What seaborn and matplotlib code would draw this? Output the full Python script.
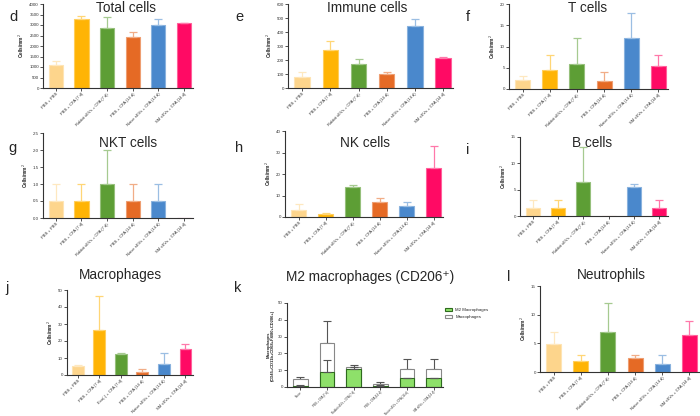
import matplotlib
matplotlib.use("Agg")
import matplotlib.pyplot as plt
import matplotlib.colors as mcolors
import numpy as np
import pandas as pd
import seaborn as sns

# ---------------- data ----------------
groups = ["PBS + PBS", "PBS + CFA (7 d)", "Rabbit sEVs + CFA (7 d)",
          "PBS + CFA (14 d)", "Naive sEVs + CFA (14 d)", "SM sEVs + CFA (14 d)"]
groups_j = ["PBS + PBS", "PBS + CFA (7 d)", "Exo(-) + CFA (7 d)",
            "PBS + CFA (14 d)", "Naive sEVs + CFA (14 d)", "SM sEVs + CFA (14 d)"]
groups_k = ["Naive", "PBS + CFA (7 d)", "Rabbit sEVs + CFA (7 d)",
            "PBS + CFA (14 d)", "Naive sEVs + CFA (14 d)", "SM sEVs + CFA (14 d)"]

total_mean = [1085, 3270, 2850, 2405, 2980, 3075]
total_err = [1305, 3425, 3360, 2675, 3300, 3092]
immune_mean = [80, 270, 175, 97, 441, 216]
immune_err = [114, 339, 206, 114, 493, 220]
t_mean = [2.1, 4.5, 6.0, 2.0, 11.9, 5.5]
t_err = [3.0, 8.0, 12.0, 4.0, 18.0, 8.0]
nkt_mean = [0.5, 0.5, 1.0, 0.5, 0.5, 0.0]
nkt_err = [1.0, 1.0, 2.0, 1.0, 1.0, 0.0]
nk_mean = [3.1, 1.4, 14.0, 7.0, 5.0, 22.6]
nk_err = [6.2, 2.0, 15.0, 9.0, 7.1, 33.2]
b_mean = [1.5, 1.5, 6.5, 0.0, 5.5, 1.5]
b_err = [3.0, 3.0, 13.1, 0.0, 6.0, 3.0]
mac_mean = [5.1, 26.5, 12.4, 1.8, 6.3, 15.3]
mac_err = [6.1, 46.3, 13.1, 3.7, 13.1, 18.0]
k_mac_mean = [4.7, 26.0, 11.8, 1.6, 11.0, 11.0]
k_mac_err = [6.1, 39.2, 13.2, 2.8, 16.5, 16.5]
k_m2_mean = [0.6, 9.1, 10.8, 0.6, 5.1, 5.1]
k_m2_err = [1.4, 16.1, 12.2, 1.4, 5.1, 5.1]
neu_mean = [4.85, 1.9, 6.9, 2.4, 1.35, 6.4]
neu_err = [6.9, 2.9, 12.0, 2.9, 2.9, 8.9]

palette = ["#FDD58C", "#FFB405", "#5D9E35", "#E56A25", "#4A88CC", "#FF0A64"]

# ---------------- figure ----------------
sns.set_theme(style="ticks")
plt.rcParams["font.family"] = ["Liberation Sans", "DejaVu Sans"]
W, H = 700, 416
fig = plt.figure(figsize=(7.0, 4.16), dpi=100)
TITLE_FS = 9.8


def rect(l, t, r, b):
    return [l / W, 1 - b / H, (r - l) / W, (b - t) / H]


def lighten(c, f=0.5):
    rgb = np.array(mcolors.to_rgb(c))
    return tuple(rgb + (1 - rgb) * f)


def style_axes(ax, ticks, ylabel, xlim=(-0.5, 5.35), xfs=3.0):
    sns.despine(ax=ax)
    for s in ("left", "bottom"):
        ax.spines[s].set_linewidth(0.8)
        ax.spines[s].set_color("#333333")
    ax.set_ylim(ticks[0], ticks[-1])
    ax.set_yticks(ticks)
    ax.set_xlim(*xlim)
    ax.tick_params(axis="both", labelsize=3.2, length=2, width=0.6, pad=1,
                   colors="#333333")
    ax.tick_params(axis="x", labelsize=xfs)
    for lab in ax.get_xticklabels():
        lab.set_rotation(45)
        lab.set_ha("right")
        lab.set_rotation_mode("anchor")
    ax.set_xlabel("")
    ax.set_ylabel(ylabel, fontsize=3.4, fontweight="bold", labelpad=2)


def panel(r, labels, mean, err, ticks, title_xy, title, fmt=None,
          ylabel="Cells/mm$^2$", xlim=(-0.5, 5.35)):
    ax = fig.add_axes(rect(*r))
    df = pd.DataFrame({"group": labels, "value": mean})
    sns.barplot(data=df, x="group", y="value", hue="group", palette=palette,
                legend=False, width=0.55, errorbar=None, ax=ax,
                linewidth=0.8, saturation=1)
    for i, p in enumerate(ax.patches):
        p.set_edgecolor(lighten(palette[i], 0.35))
    for i, (m, e) in enumerate(zip(mean, err)):
        if e > m:
            ax.errorbar(i, m, yerr=[[0], [e - m]], fmt="none",
                        ecolor=lighten(palette[i], 0.45), elinewidth=0.9,
                        capsize=3, capthick=0.9, zorder=1)
    style_axes(ax, ticks, ylabel, xlim)
    if fmt:
        ax.set_yticklabels([fmt.format(t) for t in ticks])
    fig.text(title_xy[0] / W, 1 - title_xy[1] / H, title, ha="center",
             va="center", fontsize=TITLE_FS)
    return ax


panel((43, 4, 193, 88), groups, total_mean, total_err,
      list(range(0, 4001, 500)), (126, 8), "Total cells")
panel((288, 4, 453, 88), groups, immune_mean, immune_err,
      list(range(0, 601, 100)), (367, 8), "Immune cells")
panel((509, 4, 668, 89), groups, t_mean, t_err,
      [0, 5, 10, 15, 20], (588, 8), "T cells")
panel((43, 133, 193, 218), groups, nkt_mean, nkt_err,
      [0.0, 0.5, 1.0, 1.5, 2.0, 2.5], (128, 143), "NKT cells", fmt="{:.1f}")
panel((285, 131, 443, 217), groups, nk_mean, nk_err,
      [0, 10, 20, 30, 40], (365, 143), "NK cells")
panel((520, 137, 668, 216), groups, b_mean, b_err,
      [0, 5, 10, 15], (592, 143), "B cells")
panel((67, 290, 193, 375), groups_j, mac_mean, mac_err,
      [0, 10, 20, 30, 40, 50], (120, 275), "Macrophages")
panel((540, 286, 699, 372), groups, neu_mean, neu_err,
      [0, 5, 10, 15], (611, 275), "Neutrophils")

# ---- panel k: overlaid bars ----
axk = fig.add_axes(rect(287, 303, 443, 387))
dfk = pd.DataFrame({"group": groups_k, "mac": k_mac_mean, "m2": k_m2_mean})
sns.barplot(data=dfk, x="group", y="mac", color="white", width=0.55,
            errorbar=None, ax=axk, linewidth=0.8, edgecolor="#888888",
            label="Macrophages", saturation=1)
sns.barplot(data=dfk, x="group", y="m2", color="#8EE06A", width=0.55,
            errorbar=None, ax=axk, linewidth=0.8, edgecolor="#2E6B1E",
            label="M2 Macrophages", saturation=1)
xk = np.arange(len(groups_k))
axk.errorbar(xk, k_mac_mean,
             yerr=[np.zeros(6), np.array(k_mac_err) - np.array(k_mac_mean)],
             fmt="none", ecolor="#555555", elinewidth=0.8, capsize=3,
             capthick=0.8, zorder=0.5)
axk.errorbar(xk, k_m2_mean,
             yerr=[np.zeros(6), np.array(k_m2_err) - np.array(k_m2_mean)],
             fmt="none", ecolor="#555555", elinewidth=0.8, capsize=3,
             capthick=0.8, zorder=3)
style_axes(axk, [0, 10, 20, 30, 40, 50],
           "Macrophages\n(CD45+CD11b+CD68+F4/80+CD206+)", xfs=2.1)
axk.tick_params(axis="x", pad=0.5)
axk.yaxis.label.set_fontsize(3.0)
h, l = axk.get_legend_handles_labels()
axk.legend(h[::-1], l[::-1], loc="upper left",
           bbox_to_anchor=(443 / W, 1 - 306 / H),
           bbox_transform=fig.transFigure, frameon=False, fontsize=3.2,
           handlelength=1.6, handleheight=0.8, borderaxespad=0, labelspacing=0.6)
fig.text(370 / W, 1 - 277 / H, "M2 macrophages (CD206\u207a)", ha="center",
         va="center", fontsize=TITLE_FS,
         family=["Liberation Sans", "DejaVu Sans"])

# ---- panel letters ----
letters = [("d", 9, 17), ("e", 235, 17), ("f", 466, 17),
           ("g", 8, 148), ("h", 235, 148), ("i", 466, 150),
           ("j", 5, 288), ("k", 234, 288), ("l", 507, 277)]
for t, x, y in letters:
    fig.text(x / W, 1 - y / H, t, ha="left", va="center", fontsize=10.5)

fig.savefig("out.png", dpi=100)
